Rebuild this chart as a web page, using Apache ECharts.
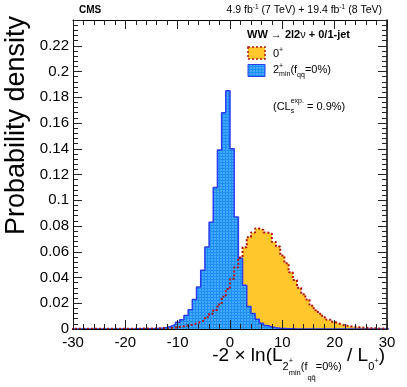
<!DOCTYPE html>
<html>
<head>
<meta charset="utf-8">
<script src="https://cdn.jsdelivr.net/npm/echarts@6/dist/echarts.min.js"></script>
<style>
html, body { margin: 0; padding: 0; background: #fff; }
#chart { width: 407px; height: 387px; }
</style>
</head>
<body>
<div id="chart"></div>
<script>
// histogram bins: width 0.8, first bin starts at -30.4 (76 bins up to 30.4)
const binWidth = 0.8;
const firstEdge = -30.4;

// 0+ hypothesis (yellow)
const spin0 = [
  0.0001, 0.0001, 0.0001, 0.0001, 0.0001, 0.0001, 0.0001, 0.0001, 0.0001, 0.0001,
  0.0001, 0.0001, 0.0002, 0.0002, 0.0002, 0.0002, 0.0003, 0.0003, 0.0003, 0.0004,
  0.0004, 0.0005, 0.0006, 0.0008, 0.0012, 0.0016, 0.0021, 0.0027, 0.0033, 0.0042,
  0.0055, 0.0068, 0.0092, 0.0118, 0.0148, 0.019, 0.025, 0.031, 0.039, 0.048,
  0.0555, 0.0635, 0.0713, 0.075, 0.078, 0.077, 0.075, 0.074, 0.0675, 0.064,
  0.057, 0.051, 0.044, 0.038, 0.032, 0.027, 0.023, 0.018, 0.0145, 0.0118,
  0.0092, 0.0072, 0.0056, 0.0043, 0.0033, 0.0026, 0.0020, 0.0016, 0.0013, 0.0010,
  0.0008, 0.0006, 0.0005, 0.0004, 0.0003, 0.0003
];

// 2+min (fqq=0%) hypothesis (blue)
const spin2 = [
  0, 0, 0, 0, 0, 0, 0, 0, 0, 0,
  0, 0, 0, 0, 0, 0.0001, 0.0001, 0.0002, 0.0002, 0.0003,
  0.0005, 0.0008, 0.0012, 0.0021, 0.0035, 0.0053, 0.0072, 0.0104, 0.0150, 0.0230,
  0.0327, 0.0456, 0.0636, 0.083, 0.110, 0.139, 0.168, 0.185, 0.140, 0.087,
  0.055, 0.034, 0.0175, 0.012, 0.0075, 0.0045, 0.0027, 0.0016, 0.0010, 0.0006,
  0.0004, 0.0002, 0.0001, 0, 0, 0, 0, 0, 0, 0,
  0, 0, 0, 0, 0, 0, 0, 0, 0, 0,
  0, 0, 0, 0, 0, 0
];

const xMin = -30, xMax = 30, xStep = 10;
const yMin = 0, yMax = 0.24, yStep = 0.02;

const FONT = '"Liberation Sans", Arial, sans-serif';

function stepPoints(vals) {
  const pts = [[firstEdge, 0]];
  vals.forEach((v, i) => pts.push([+(firstEdge + i * binWidth).toFixed(2), v]));
  const last = +(firstEdge + vals.length * binWidth).toFixed(2);
  pts.push([last, vals[vals.length - 1]]);
  pts.push([last, 0]);
  return pts;
}

// blue grid-like fill pattern
const pat = document.createElement('canvas');
pat.width = 3; pat.height = 3;
const pc = pat.getContext('2d');
pc.fillStyle = '#45a9ff'; pc.fillRect(0, 0, 3, 3);
pc.fillStyle = '#1d8ef6'; pc.fillRect(0, 0, 3, 1); pc.fillRect(0, 0, 1, 3);
const blueFill = { image: pat, repeat: 'repeat' };

// text runs with sub/superscripts: [text, size, dy, bold, noAdvance]
const mctx = document.createElement('canvas').getContext('2d');
function fontOf(p) { return (p[3] ? 'bold ' : '') + p[1] + 'px ' + FONT; }
function run(x, base, parts, anchor) {
  let w = 0;
  const items = parts.map(p => {
    mctx.font = fontOf(p);
    const tw = mctx.measureText(p[0]).width;
    if (!p[4]) w += tw;
    return { p, tw };
  });
  let cx = anchor === 'right' ? x - w : x;
  return items.map(o => {
    const el = {
      type: 'text', x: cx, y: base + o.p[2] - 0.35 * o.p[1], z: 100,
      style: { text: o.p[0], font: fontOf(o.p), fill: '#000', textAlign: 'left', textVerticalAlign: 'middle' }
    };
    if (!o.p[4]) cx += o.tw;
    return el;
  });
}

const tickStyle = { color: '#222', width: 1 };
function xAx(pos, labels) {
  return {
    type: 'value', min: xMin, max: xMax, interval: xStep, position: pos, z: 5,
    axisLine: { show: true, onZero: false, lineStyle: { color: '#000', width: 1 } },
    axisTick: { inside: true, length: 9, lineStyle: tickStyle },
    minorTick: { show: true, splitNumber: 5, length: 5, lineStyle: tickStyle },
    axisLabel: { show: labels, fontSize: 15, color: '#000', fontFamily: FONT, margin: 6 },
    splitLine: { show: false }, minorSplitLine: { show: false }
  };
}
function yAx(pos, labels) {
  return {
    type: 'value', min: yMin, max: yMax, interval: yStep, position: pos, z: 5,
    axisLine: { show: true, onZero: false, lineStyle: { color: '#000', width: pos === 'right' ? 1.5 : 1 } },
    axisTick: { inside: true, length: 9, lineStyle: tickStyle },
    minorTick: { show: true, splitNumber: 5, length: 5, lineStyle: tickStyle },
    axisLabel: {
      show: labels, fontSize: 15, color: '#000', fontFamily: FONT, margin: 4,
      formatter: v => v > yMax - 1e-6 ? '' : (v === 0 ? '0' : String(Math.round(v * 100) / 100))
    },
    splitLine: { show: false }, minorSplitLine: { show: false }
  };
}

const graphics = [].concat(
  run(79, 13.5, [['CMS', 10, 0, true]]),
  run(382, 13.5, [
    ['4.9 fb', 10.5, 0], ['-1', 6.5, -4], [' (7 TeV) + 19.4 fb', 10.5, 0], ['-1', 6.5, -4], [' (8 TeV)', 10.5, 0]
  ], 'right'),
  run(247, 38.5, [
    ['WW ', 11, 0, true], ['\u2192', 11, 0], [' 2l2', 11, 0, true], ['\u03bd', 11, 0], [' + 0/1-jet', 11, 0, true]
  ]),
  run(273, 57.5, [['0', 11, 0], ['+', 7, -5]]),
  run(273, 74, [
    ['2', 11, 0], ['+', 7, -5, false, true], ['min', 7, 3], ['(f', 11, 0], ['qq\u0304', 7, 4], ['=0%)', 11, 0]
  ]),
  run(273, 110.5, [
    ['(CL', 11, 0], ['s', 7, 3, false, true], ['exp.', 7, -7], [' = 0.9%)', 11, 0]
  ]),
  run(385, 362.5, [
    ['-2 \u00d7 ln(L', 19, 0], ['2', 11, 8], ['+', 7.5, 1, false, true], ['min', 7.5, 13], ['(f', 11, 8],
    ['qq\u0304', 7.5, 18], ['=0%)', 11, 8], [' / L', 19, 0], ['0', 11, 8], ['+', 7.5, 1], [')', 19, 0]
  ], 'right'),
  [
    {
      type: 'text', x: 17, y: 16, rotation: Math.PI / 2, z: 100,
      style: { text: 'Probability density', font: '27px ' + FONT, fill: '#000', textAlign: 'right', textVerticalAlign: 'middle' }
    },
    {
      type: 'rect', z: 100, shape: { x: 248, y: 47, width: 17, height: 12 },
      style: { fill: '#ffc72c', stroke: '#b01010', lineWidth: 1.5, lineDash: [2, 2] }
    },
    {
      type: 'rect', z: 100, shape: { x: 248, y: 64.5, width: 17, height: 12 },
      style: { fill: blueFill, stroke: '#2a3cf0', lineWidth: 1 }
    }
  ]
);

const chart = echarts.init(document.getElementById('chart'));
chart.setOption({
  animation: false,
  backgroundColor: '#fff',
  grid: { left: 73, right: 20, top: 20, bottom: 58 },
  xAxis: [xAx('bottom', true), xAx('top', false)],
  yAxis: [yAx('left', true), yAx('right', false)],
  series: [
    {
      name: '0+ fill', type: 'line', step: 'end', data: stepPoints(spin0), showSymbol: false, silent: true,
      lineStyle: { width: 0 }, areaStyle: { color: '#ffc72c', opacity: 1 }, z: 2
    },
    {
      name: '2+min', type: 'line', step: 'end', data: stepPoints(spin2), showSymbol: false, silent: true,
      lineStyle: { color: '#2a3cf0', width: 1.5 }, areaStyle: { color: blueFill, opacity: 1 }, z: 3
    },
    {
      name: '0+', type: 'line', step: 'end', data: stepPoints(spin0), showSymbol: false, silent: true,
      lineStyle: { color: '#b01010', width: 2, type: [2, 2] }, z: 4
    }
  ],
  graphic: graphics
});
</script>
</body>
</html>
